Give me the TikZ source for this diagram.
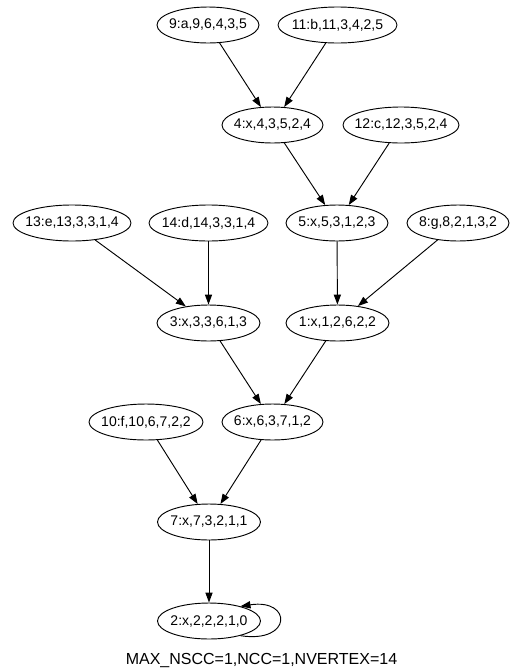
\documentclass[tikz,border=0pt]{standalone}
\usepackage{fontspec}
\setmainfont{Liberation Sans}
\usetikzlibrary{shapes.geometric,arrows.meta}
\tikzset{
  vtx/.style={draw, ellipse, line width=0.7pt, inner sep=0pt,
    minimum width=#1*0.75pt, minimum height=27pt,
    font=\fontsize{10.5}{12}\selectfont},
  edge/.style={line width=0.7pt, -{Triangle[length=7.5pt,width=5.4pt]}}
}
\newcommand{\lbl}[1]{\makebox[0pt]{#1}}
\begin{document}
\begin{tikzpicture}[x=0.75pt,y=-0.75pt]
\useasboundingbox (0,0) rectangle (510,672);
\node[vtx=102] (n9)  at (208,25)   {\lbl{9:a,9,6,4,3,5}};
\node[vtx=119] (n11) at (337.5,25) {\lbl{11:b,11,3,4,2,5}};
\node[vtx=101] (n4)  at (272.5,125) {\lbl{4:x,4,3,5,2,4}};
\node[vtx=116] (n12) at (401,125)  {\lbl{12:c,12,3,5,2,4}};
\node[vtx=118] (n13) at (72,223)   {\lbl{13:e,13,3,3,1,4}};
\node[vtx=119] (n14) at (208.5,223) {\lbl{14:d,14,3,3,1,4}};
\node[vtx=102] (n5)  at (337,223)  {\lbl{5:x,5,3,1,2,3}};
\node[vtx=102] (n8)  at (458,223)  {\lbl{8:g,8,2,1,3,2}};
\node[vtx=103] (n3)  at (208.5,323) {\lbl{3:x,3,3,6,1,3}};
\node[vtx=103] (n1)  at (337.5,323) {\lbl{1:x,1,2,6,2,2}};
\node[vtx=114] (n10) at (146,422)  {\lbl{10:f,10,6,7,2,2}};
\node[vtx=101] (n6)  at (272.5,422) {\lbl{6:x,6,3,7,1,2}};
\node[vtx=103] (n7)  at (209,522)  {\lbl{7:x,7,3,2,1,1}};
\node[vtx=103] (n2)  at (209,621)  {\lbl{2:x,2,2,2,1,0}};
\node[font=\fontsize{12}{14}\selectfont, inner sep=0pt] (cap) at (261.5,660) {MAX\_NSCC=1,NCC=1,NVERTEX=14};
\draw[edge] (n9) -- (n4);
\draw[edge] (n11) -- (n4);
\draw[edge] (n4) -- (n5);
\draw[edge] (n12) -- (n5);
\draw[edge] (n13) -- (n3);
\draw[edge] (n14) -- (n3);
\draw[edge] (n5) -- (n1);
\draw[edge] (n8) -- (n1);
\draw[edge] (n3) -- (n6);
\draw[edge] (n1) -- (n6);
\draw[edge] (n10) -- (n7);
\draw[edge] (n6) -- (n7);
\draw[edge] (n7) -- (n2);
\draw[edge] (n2.-25) .. controls +(52,8) and +(52,-8) .. (n2.25);
\end{tikzpicture}
\end{document}
